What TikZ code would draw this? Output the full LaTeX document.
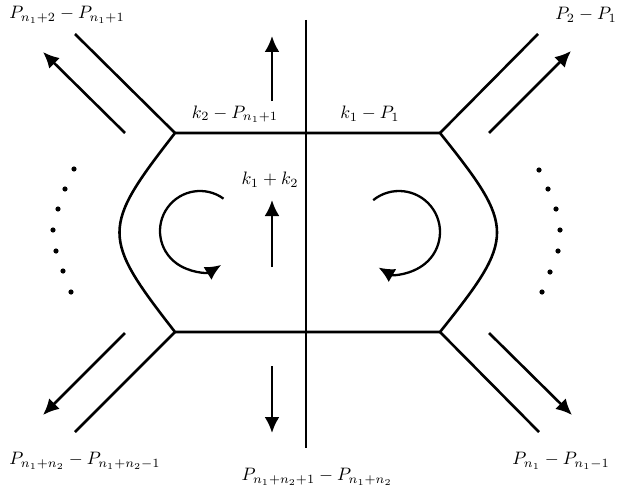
\documentclass[tikz,border=0pt]{standalone}
\usetikzlibrary{arrows.meta}
\begin{document}
\begin{tikzpicture}[x=1pt,y=-1pt,line width=2.6pt,
  tip/.style={-{Latex[length=16pt,width=15pt]}},
  lab/.style={inner sep=0pt,scale=1.8},
  dotmark/.style={fill=black}]
\useasboundingbox (0,0) rectangle (617,492);
% hexagon corners
\coordinate (tl) at (175,133);
\coordinate (tr) at (440,133);
\coordinate (bl) at (175,332);
\coordinate (br) at (440,332);
% leg ends
\coordinate (ltl) at (75,34);
\coordinate (ltr) at (538,34);
\coordinate (lbl) at (75,432);
\coordinate (lbr) at (539,432);
% momentum arrows
\coordinate (atl0) at (125,133); \coordinate (atl1) at (43,52);
\coordinate (atr0) at (489,133); \coordinate (atr1) at (571,51);
\coordinate (abl0) at (125,333); \coordinate (abl1) at (43,415);
\coordinate (abr0) at (489,333); \coordinate (abr1) at (572,415);
\coordinate (vt) at (306,20);
\coordinate (vb) at (306,448);
\coordinate (up0) at (272,101); \coordinate (up1) at (272,36);
\coordinate (mid0) at (272,267); \coordinate (mid1) at (272,200);
\coordinate (dn0) at (272,366); \coordinate (dn1) at (272,433);

% loop
\draw (tl) -- (tr) .. controls (516,228) and (516,237) .. (br)
      -- (bl) .. controls (101,237) and (101,228) .. (tl) -- cycle;
\draw (tl) -- (ltl);
\draw (tr) -- (ltr);
\draw (bl) -- (lbl);
\draw (br) -- (lbr);
\draw (vt) -- (vb);

\draw[tip] (atl0) -- (atl1);
\draw[tip] (atr0) -- (atr1);
\draw[tip] (abl0) -- (abl1);
\draw[tip] (abr0) -- (abr1);
\draw[tip] (up0) -- (up1);
\draw[tip] (mid0) -- (mid1);
\draw[tip] (dn0) -- (dn1);

% circulation arrows
\coordinate (cl) at (200,231);
\coordinate (cr) at (399,232);
\draw[tip,line width=2.3pt] (cl) ++(-54:40) arc[start angle=-54,end angle=-302,radius=40];
\draw[tip,line width=2.3pt] (cr) ++(-129:41) arc[start angle=-129,end angle=120,radius=41];

% dots
\foreach \p in {(74,169),(65,189),(58,209),(53,230),(56,251),(63,271),(71,292),
                (539,170),(548,189),(556,209),(560,230),(558,251),(550,272),(542,292)}
  \fill[dotmark] \p circle (2.6);

% labels
\node[lab] (Ltl) at (67,15) {$P_{n_1+2}-P_{n_1+1}$};
\node[lab] (Ltr) at (586,15) {$P_2-P_1$};
\node[lab] (Lk2) at (235,114) {$k_2-P_{n_1+1}$};
\node[lab] (Lk1) at (370,114) {$k_1-P_1$};
\node[lab] (Lkk) at (270,180) {$k_1+k_2$};
\node[lab] (Lbl) at (85,461) {$P_{n_1+n_2}-P_{n_1+n_2-1}$};
\node[lab] (Lbm) at (317,477) {$P_{n_1+n_2+1}-P_{n_1+n_2}$};
\node[lab] (Lbr) at (561,461) {$P_{n_1}-P_{n_1-1}$};
\end{tikzpicture}
\end{document}
